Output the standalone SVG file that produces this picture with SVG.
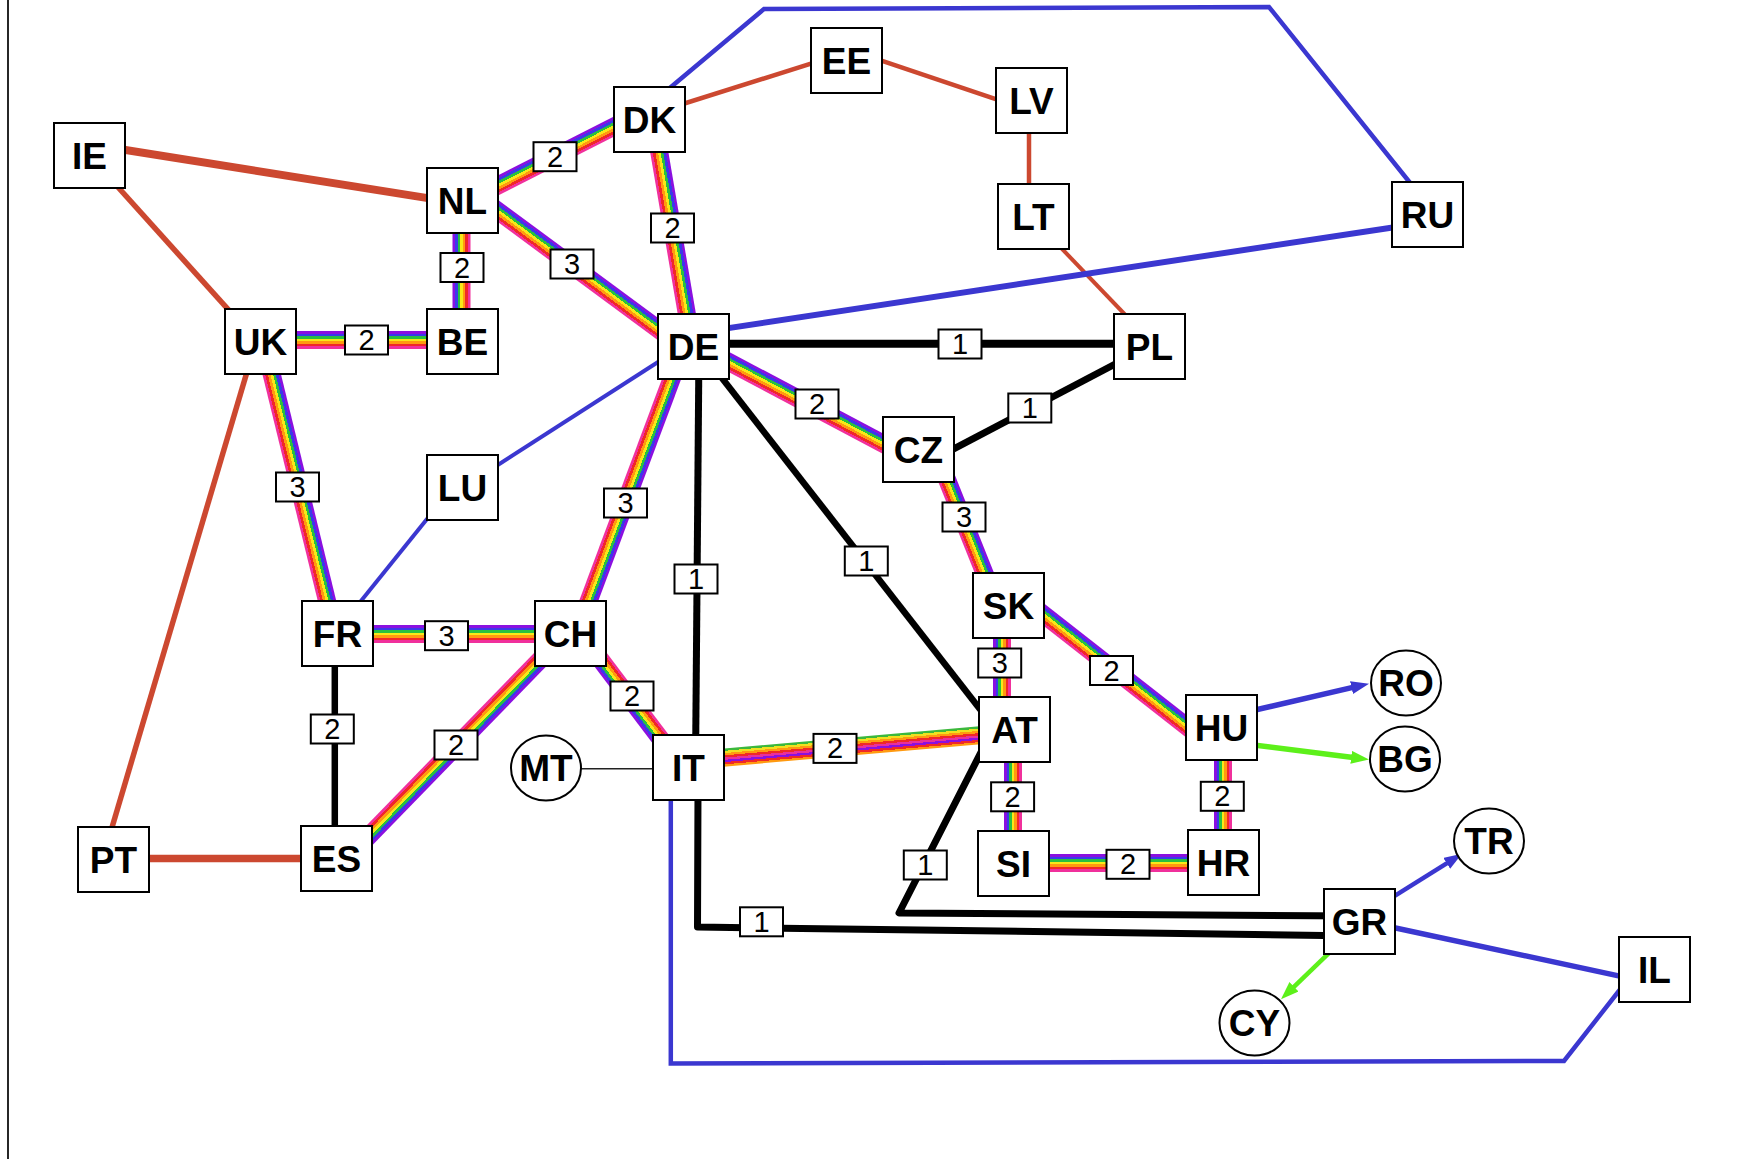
<svg xmlns="http://www.w3.org/2000/svg" width="1756" height="1159" viewBox="0 0 1756 1159">
<style>
.n rect,.n ellipse{fill:#fff;stroke:#000;stroke-width:2}
.n text{font-family:"Liberation Sans",Arial,sans-serif;font-weight:bold;font-size:37px;text-anchor:middle;fill:#000}
.lb rect{fill:#fff;stroke:#000;stroke-width:2}
.lb text{font-family:"Liberation Sans",Arial,sans-serif;font-size:29px;text-anchor:middle;fill:#000}
.red{stroke:#cc4830;fill:none;stroke-linecap:butt}
.blue{stroke:#3b37d0;fill:none;stroke-linejoin:miter}
.green{stroke:#5df01a;fill:none}
.blk{stroke:#000;fill:none;stroke-linejoin:round}
.r{fill:url(#rb)}
</style>
<defs>
<linearGradient id="rb" x1="0" y1="0" x2="0" y2="1">
<stop offset="0" stop-color="#8a10e0"/><stop offset="0.1428" stop-color="#8a10e0"/>
<stop offset="0.1428" stop-color="#3a3ae8"/><stop offset="0.2857" stop-color="#3a3ae8"/>
<stop offset="0.2857" stop-color="#28c040"/><stop offset="0.4286" stop-color="#28c040"/>
<stop offset="0.4286" stop-color="#f8e818"/><stop offset="0.5714" stop-color="#f8e818"/>
<stop offset="0.5714" stop-color="#ff9a10"/><stop offset="0.7143" stop-color="#ff9a10"/>
<stop offset="0.7143" stop-color="#f02828"/><stop offset="0.8571" stop-color="#f02828"/>
<stop offset="0.8571" stop-color="#f0309c"/><stop offset="1" stop-color="#f0309c"/>
</linearGradient>
<linearGradient id="rb2" x1="0" y1="0" x2="0" y2="1">
<stop offset="0" stop-color="#3cb83c"/><stop offset="0.125" stop-color="#3cb83c"/>
<stop offset="0.125" stop-color="#f0e020"/><stop offset="0.25" stop-color="#f0e020"/>
<stop offset="0.25" stop-color="#ff9a10"/><stop offset="0.375" stop-color="#ff9a10"/>
<stop offset="0.375" stop-color="#f02828"/><stop offset="0.5" stop-color="#f02828"/>
<stop offset="0.5" stop-color="#e8309c"/><stop offset="0.625" stop-color="#e8309c"/>
<stop offset="0.625" stop-color="#8a10e0"/><stop offset="0.75" stop-color="#8a10e0"/>
<stop offset="0.75" stop-color="#f02828"/><stop offset="0.875" stop-color="#f02828"/>
<stop offset="0.875" stop-color="#ff9a10"/><stop offset="1" stop-color="#ff9a10"/>
</linearGradient>
<marker id="ab" markerUnits="userSpaceOnUse" orient="auto" markerWidth="18" markerHeight="13" refX="8" refY="6.5"><path d="M0,0 L18,6.5 L0,13 z" fill="#3b37d0"/></marker>
<marker id="ag" markerUnits="userSpaceOnUse" orient="auto" markerWidth="18" markerHeight="13" refX="8" refY="6.5"><path d="M0,0 L18,6.5 L0,13 z" fill="#5df01a"/></marker>
</defs>
<rect x="0" y="0" width="1756" height="1159" fill="#fff"/>
<line x1="8" y1="0" x2="8" y2="1159" stroke="#000" stroke-width="1.7"/>
<g id="edges">
<!-- red -->
<line class="red" x1="89.5" y1="144.3" x2="462.5" y2="203.6" stroke-width="8"/>
<line class="red" x1="89.5" y1="155.5" x2="257" y2="341.5" stroke-width="5.5"/>
<line class="red" x1="256" y1="341.5" x2="102.5" y2="859.5" stroke-width="5.5"/>
<line class="red" x1="113.5" y1="858.6" x2="336.5" y2="858.6" stroke-width="7.5"/>
<line class="red" x1="649.5" y1="114.5" x2="846.5" y2="52.4" stroke-width="4.5"/>
<line class="red" x1="846.5" y1="48.9" x2="1031.5" y2="111.1" stroke-width="4.5"/>
<line class="red" x1="1029" y1="100.5" x2="1029" y2="216.5" stroke-width="4.5"/>
<line class="red" x1="1031" y1="216.5" x2="1155.6" y2="346.5" stroke-width="4"/>
<!-- blue -->
<polyline class="blue" points="665,92 764,9 1269,7 1411,184" stroke-width="4.5"/>
<line class="blue" x1="693.5" y1="333.4" x2="1427.5" y2="222.2" stroke-width="6"/>
<line class="blue" x1="693.5" y1="339.3" x2="462.5" y2="487.7" stroke-width="4"/>
<line class="blue" x1="452.4" y1="487.5" x2="334.8" y2="633.5" stroke-width="4"/>
<polyline class="blue" points="670.8,790 670.8,1063.5 1564,1061 1622,987" stroke-width="4.5"/>
<line class="blue" x1="1359.5" y1="920.2" x2="1654.5" y2="983.6" stroke-width="5.5"/>
<line class="blue" x1="1221.5" y1="717.8" x2="1359.3" y2="685.9" stroke-width="5.5" marker-end="url(#ab)"/>
<line class="blue" x1="1359.5" y1="917.8" x2="1453.5" y2="859.1" stroke-width="4.5" marker-end="url(#ab)"/>
<!-- green -->
<line class="green" x1="1221.5" y1="740.9" x2="1359.1" y2="758.3" stroke-width="5.5" marker-end="url(#ag)"/>
<line class="green" x1="1359.5" y1="923.7" x2="1288.2" y2="992.3" stroke-width="4.5" marker-end="url(#ag)"/>
<!-- black -->
<line class="blk" x1="693.5" y1="343.7" x2="1149.5" y2="343.7" stroke-width="8"/>
<line class="blk" x1="918.5" y1="467.4" x2="1149.5" y2="346" stroke-width="7"/>
<line class="blk" x1="699" y1="346.5" x2="695.5" y2="767.5" stroke-width="7"/>
<line class="blk" x1="697" y1="346" x2="990" y2="722" stroke-width="6.5"/>
<line class="blk" x1="334.8" y1="633.5" x2="334.8" y2="858.5" stroke-width="6.5"/>
<polyline class="blk" points="992.6,729.5 899,913 1359.5,916" stroke-width="7"/>
<polyline class="blk" points="698,790 697.5,927 1359.5,936" stroke-width="7"/>
<line x1="546" y1="768.7" x2="688.5" y2="768.7" stroke="#222" stroke-width="1.5"/>
<!-- rainbow -->
<g transform="translate(462.5,203.6) rotate(-26.96)"><rect class="r" x="0" y="-9" width="209.8" height="18"/></g>
<g transform="translate(653.7,119.5) rotate(80.33)"><rect class="r" x="0" y="-9" width="230.3" height="18"/></g>
<g transform="translate(461.5,341.5) rotate(-90)"><rect class="r" x="0" y="-9" width="141" height="18"/></g>
<g transform="translate(462.5,184.8) rotate(36.43)"><rect class="r" x="0" y="-9" width="287.1" height="18"/></g>
<g transform="translate(260.5,340) rotate(0)"><rect class="r" x="0" y="-9" width="202" height="18"/></g>
<g transform="translate(263.7,341.5) rotate(76.28)"><rect class="r" x="0" y="-9" width="300.6" height="18"/></g>
<g transform="translate(683.7,346.5) rotate(110.48)"><rect class="r" x="0" y="-9" width="306.4" height="18"/></g>
<g transform="translate(693.5,343.2) rotate(27.93)"><rect class="r" x="0" y="-9" width="254.7" height="18"/></g>
<g transform="translate(935,449.5) rotate(68.2)"><rect class="r" x="0" y="-9" width="168" height="18"/></g>
<g transform="translate(337.5,634) rotate(0)"><rect class="r" x="0" y="-9" width="233" height="18"/></g>
<g transform="translate(565.6,633.5) rotate(134.18)"><rect class="r" x="0" y="-9" width="313.7" height="18"/></g>
<g transform="translate(688.5,775.8) rotate(-127.14)"><rect class="r" x="0" y="-9" width="195.4" height="18"/></g>
<g transform="translate(688.5,760.7) rotate(-4.98)"><rect x="0" y="-9" width="327.2" height="18" fill="url(#rb2)"/></g>
<g transform="translate(1002,729.5) rotate(-90)"><rect class="r" x="0" y="-9" width="124" height="18"/></g>
<g transform="translate(1008.5,587) rotate(38.06)"><rect class="r" x="0" y="-9" width="270.5" height="18"/></g>
<g transform="translate(1013,863.5) rotate(-90)"><rect class="r" x="0" y="-9" width="134" height="18"/></g>
<g transform="translate(1223,862.5) rotate(-90)"><rect class="r" x="0" y="-9" width="135" height="18"/></g>
<g transform="translate(1013.5,863) rotate(0)"><rect class="r" x="0" y="-9" width="210" height="18"/></g>
<!-- edge labels -->
<g class="lb">
<rect x="533.5" y="142.2" width="43" height="29"/><text x="555" y="166.7">2</text>
<rect x="651" y="213.5" width="43" height="29"/><text x="672.5" y="238">2</text>
<rect x="440.5" y="253" width="43" height="29"/><text x="462" y="277.5">2</text>
<rect x="550.5" y="249.5" width="43" height="29"/><text x="572" y="274">3</text>
<rect x="345" y="325.5" width="43" height="29"/><text x="366.5" y="350">2</text>
<rect x="276" y="472.5" width="43" height="29"/><text x="297.5" y="497">3</text>
<rect x="604" y="488.5" width="43" height="29"/><text x="625.5" y="513">3</text>
<rect x="795.5" y="389.5" width="43" height="29"/><text x="817" y="414">2</text>
<rect x="942.5" y="502.5" width="43" height="29"/><text x="964" y="527">3</text>
<rect x="425" y="621.2" width="43" height="29"/><text x="446.5" y="645.7">3</text>
<rect x="434.5" y="730.5" width="43" height="29"/><text x="456" y="755">2</text>
<rect x="610.5" y="681.5" width="43" height="29"/><text x="632" y="706">2</text>
<rect x="813.5" y="733.9" width="43" height="29"/><text x="835" y="758.4">2</text>
<rect x="978.2" y="648.5" width="43" height="29"/><text x="999.7" y="673">3</text>
<rect x="1090" y="656" width="43" height="29"/><text x="1111.5" y="680.5">2</text>
<rect x="991.1" y="782.3" width="43" height="29"/><text x="1012.6" y="806.8">2</text>
<rect x="1200.8" y="781.8" width="43" height="29"/><text x="1222.3" y="806.3">2</text>
<rect x="1106.5" y="849.8" width="43" height="29"/><text x="1128" y="874.3">2</text>
<rect x="938.5" y="329.5" width="43" height="29"/><text x="960" y="354">1</text>
<rect x="1008.3" y="393.5" width="43" height="29"/><text x="1029.8" y="418">1</text>
<rect x="674.5" y="564.5" width="43" height="29"/><text x="696" y="589">1</text>
<rect x="844.8" y="546.5" width="43" height="29"/><text x="866.3" y="571">1</text>
<rect x="310.8" y="714.5" width="43" height="29"/><text x="332.3" y="739">2</text>
<rect x="903.8" y="850.5" width="43" height="29"/><text x="925.3" y="875">1</text>
<rect x="740" y="907.3" width="43" height="29"/><text x="761.5" y="931.8">1</text>
</g>
</g>
<g id="node-IE" class="n"><rect x="54" y="123" width="71" height="65"/><text x="89.5" y="169">IE</text></g>
<g id="node-NL" class="n"><rect x="427" y="168" width="71" height="65"/><text x="462.5" y="214">NL</text></g>
<g id="node-DK" class="n"><rect x="614" y="87" width="71" height="65"/><text x="649.5" y="133">DK</text></g>
<g id="node-EE" class="n"><rect x="811" y="28" width="71" height="65"/><text x="846.5" y="74">EE</text></g>
<g id="node-LV" class="n"><rect x="996" y="68" width="71" height="65"/><text x="1031.5" y="114">LV</text></g>
<g id="node-LT" class="n"><rect x="998" y="184" width="71" height="65"/><text x="1033.5" y="230">LT</text></g>
<g id="node-RU" class="n"><rect x="1392" y="182" width="71" height="65"/><text x="1427.5" y="228">RU</text></g>
<g id="node-UK" class="n"><rect x="225" y="309" width="71" height="65"/><text x="260.5" y="355">UK</text></g>
<g id="node-BE" class="n"><rect x="427" y="309" width="71" height="65"/><text x="462.5" y="355">BE</text></g>
<g id="node-DE" class="n"><rect x="658" y="314" width="71" height="65"/><text x="693.5" y="360">DE</text></g>
<g id="node-PL" class="n"><rect x="1114" y="314" width="71" height="65"/><text x="1149.5" y="360">PL</text></g>
<g id="node-CZ" class="n"><rect x="883" y="417" width="71" height="65"/><text x="918.5" y="463">CZ</text></g>
<g id="node-LU" class="n"><rect x="427" y="455" width="71" height="65"/><text x="462.5" y="501">LU</text></g>
<g id="node-FR" class="n"><rect x="302" y="601" width="71" height="65"/><text x="337.5" y="647">FR</text></g>
<g id="node-CH" class="n"><rect x="535" y="601" width="71" height="65"/><text x="570.5" y="647">CH</text></g>
<g id="node-SK" class="n"><rect x="973" y="573" width="71" height="65"/><text x="1008.5" y="619">SK</text></g>
<g id="node-AT" class="n"><rect x="979" y="697" width="71" height="65"/><text x="1014.5" y="743">AT</text></g>
<g id="node-HU" class="n"><rect x="1186" y="695" width="71" height="65"/><text x="1221.5" y="741">HU</text></g>
<g id="node-IT" class="n"><rect x="653" y="735" width="71" height="65"/><text x="688.5" y="781">IT</text></g>
<g id="node-ES" class="n"><rect x="301" y="826" width="71" height="65"/><text x="336.5" y="872">ES</text></g>
<g id="node-PT" class="n"><rect x="78" y="827" width="71" height="65"/><text x="113.5" y="873">PT</text></g>
<g id="node-SI" class="n"><rect x="978" y="831" width="71" height="65"/><text x="1013.5" y="877">SI</text></g>
<g id="node-HR" class="n"><rect x="1188" y="830" width="71" height="65"/><text x="1223.5" y="876">HR</text></g>
<g id="node-GR" class="n"><rect x="1324" y="889" width="71" height="65"/><text x="1359.5" y="935">GR</text></g>
<g id="node-IL" class="n"><rect x="1619" y="937" width="71" height="65"/><text x="1654.5" y="983">IL</text></g>
<g id="node-MT" class="n"><ellipse cx="546" cy="768" rx="35" ry="32.5"/><text x="546" y="781">MT</text></g>
<g id="node-RO" class="n"><ellipse cx="1406" cy="683" rx="35" ry="32.5"/><text x="1406" y="696">RO</text></g>
<g id="node-BG" class="n"><ellipse cx="1405" cy="759" rx="35" ry="32.5"/><text x="1405" y="772">BG</text></g>
<g id="node-TR" class="n"><ellipse cx="1489" cy="841" rx="35" ry="32.5"/><text x="1489" y="854">TR</text></g>
<g id="node-CY" class="n"><ellipse cx="1254.5" cy="1023" rx="35" ry="32.5"/><text x="1254.5" y="1036">CY</text></g>
</svg>
